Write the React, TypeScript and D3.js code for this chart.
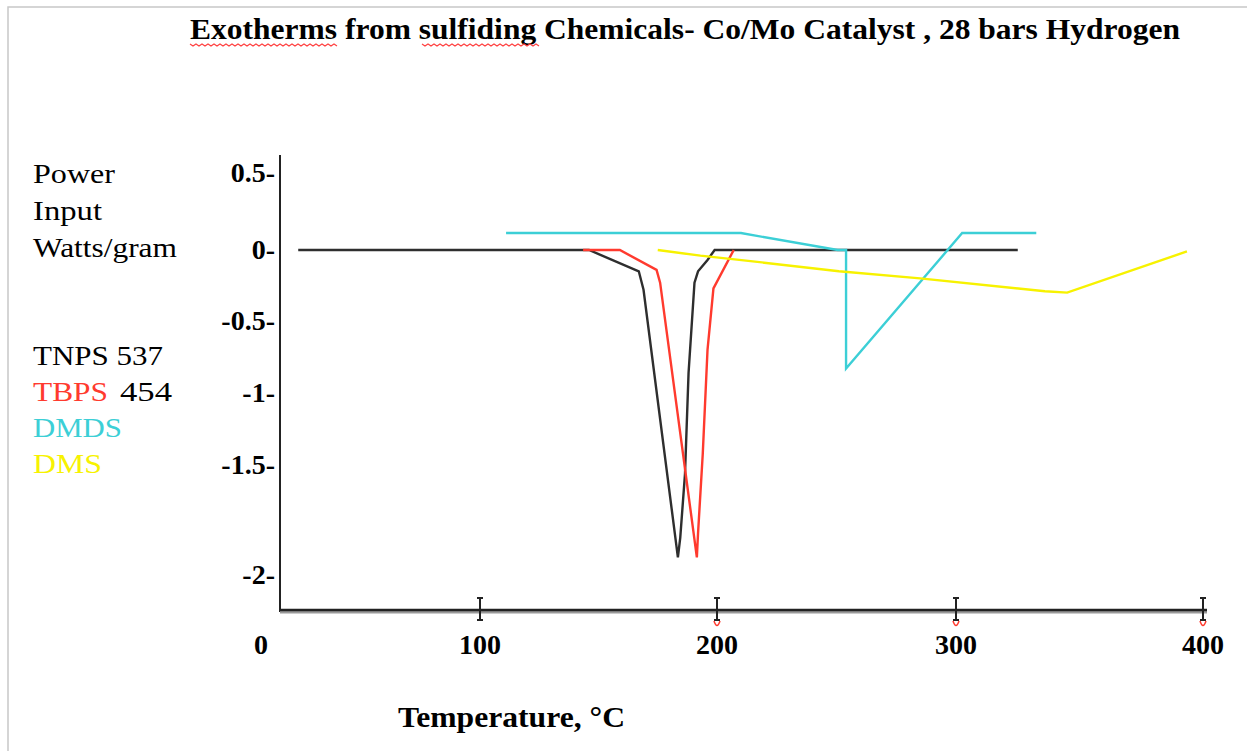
import * as d3 from "d3";

// temperature (°C) and power input (W/g)
const xTicks = [0, 100, 200, 300, 400];
const yTicks = [0.5, 0, -0.5, -1, -1.5, -2];

const tnpsTemp = [17, 146, 167, 169, 183.5, 184.5, 186.5, 188, 190.5, 192, 196, 199, 325];
const tnpsPower = [0, 0, -0.15, -0.28, -1.92, -1.83, -1.54, -0.86, -0.23, -0.15, -0.07, 0, 0];

const tbpsTemp = [143.5, 159, 174.5, 176, 191.5, 192, 194, 196, 198.5, 207];
const tbpsPower = [0, 0, -0.14, -0.23, -1.92, -1.81, -1.42, -0.7, -0.27, 0];

const dmdsTemp = [111, 210, 250.5, 254, 254, 302.5, 332.5];
const dmdsPower = [0.11, 0.11, 0, 0, -0.83, 0.11, 0.11];

const dmsTemp = [175, 193, 215, 251, 285, 336, 345, 393.5];
const dmsPower = [0, -0.04, -0.08, -0.15, -0.2, -0.29, -0.3, -0.01];

const seriesNames = ["TNPS", "TBPS", "DMDS", "DMS"];
const seriesColors = ["#2e2e2e", "#ff3a2e", "#3ccfd6", "#f7f200"];

const serif = "'Liberation Serif', 'Times New Roman', serif";

const App = () => {
  const width = 1247;
  const height = 751;
  const axisX = 280; // where the y axis line sits
  const axisY = 610; // where the x axis line sits

  // the slide's axis is hand drawn, so the scale is piecewise
  const x = d3.scaleLinear().domain(xTicks).range([261, 480, 717, 956, 1203]);
  const y = d3.scaleLinear().domain(yTicks).range([173, 250, 321, 393, 465, 575]);

  const line = d3
    .line<[number, number]>()
    .x((d) => x(d[0]))
    .y((d) => y(d[1]));

  const series = [
    d3.zip(tnpsTemp, tnpsPower),
    d3.zip(tbpsTemp, tbpsPower),
    d3.zip(dmdsTemp, dmdsPower),
    d3.zip(dmsTemp, dmsPower),
  ] as [number, number][][];

  // spell-check squiggle under a word
  const squiggle = (x0: number, x1: number, yy: number) => {
    let p = `M${x0},${yy}`;
    for (let xx = x0, k = 0; xx < x1; xx += 3, k++) {
      p += ` L${xx + 3},${yy + (k % 2 === 0 ? 2 : 0)}`;
    }
    return p;
  };

  return (
    <svg
      width={width}
      height={height}
      style={{ position: "absolute", left: 0, top: 0, background: "#fff" }}
      fontFamily={serif}
    >
      {/* slide frame */}
      <path d={`M8,${height} L8,7 L${width},7`} fill="none" stroke="#c8c8c8" strokeWidth={1.5} />

      <text x={190} y={39} fontSize={30} fontWeight="bold" textLength={990} lengthAdjust="spacingAndGlyphs">
        Exotherms from sulfiding Chemicals- Co/Mo Catalyst , 28 bars Hydrogen
      </text>
      <path d={squiggle(190, 336, 44)} fill="none" stroke="#ff4040" strokeWidth={1.2} />
      <path d={squiggle(422, 538, 44)} fill="none" stroke="#ff4040" strokeWidth={1.2} />

      {/* y axis title */}
      <text x={33} y={183} fontSize={28} textLength={82} lengthAdjust="spacingAndGlyphs">Power</text>
      <text x={33} y={220} fontSize={28} textLength={69} lengthAdjust="spacingAndGlyphs">Input</text>
      <text x={33} y={257} fontSize={28} textLength={144} lengthAdjust="spacingAndGlyphs">Watts/gram</text>

      {/* legend */}
      <text x={33} y={365} fontSize={28} textLength={130} lengthAdjust="spacingAndGlyphs">
        {seriesNames[0]} 537
      </text>
      <text x={33} y={401} fontSize={28} fill={seriesColors[1]} textLength={75} lengthAdjust="spacingAndGlyphs">
        {seriesNames[1]}
      </text>
      <text x={120} y={401} fontSize={28} textLength={52} lengthAdjust="spacingAndGlyphs">454</text>
      <text x={33} y={437} fontSize={28} fill={seriesColors[2]} textLength={89} lengthAdjust="spacingAndGlyphs">
        {seriesNames[2]}
      </text>
      <text x={33} y={473} fontSize={28} fill={seriesColors[3]} textLength={69} lengthAdjust="spacingAndGlyphs">
        {seriesNames[3]}
      </text>

      {/* y axis */}
      <line x1={axisX} x2={axisX} y1={155} y2={axisY + 2} stroke="#222" strokeWidth={2} />
      {yTicks.map((v) => (
        <text key={v} x={275} y={y(v) + 9} fontSize={28} fontWeight="bold" textAnchor="end">
          {String(v)}-
        </text>
      ))}

      {/* x axis */}
      <line x1={axisX} x2={1207} y1={axisY + 2} y2={axisY + 2} stroke="#9a9a9a" strokeWidth={3} />
      <line x1={axisX} x2={1207} y1={axisY} y2={axisY} stroke="#222" strokeWidth={2.5} />
      {xTicks
        .filter((v) => v > 0)
        .map((v) => (
          <g key={v} stroke="#222" strokeWidth={2}>
            <line x1={x(v)} x2={x(v)} y1={598} y2={620} />
            <line x1={x(v) - 3} x2={x(v) + 3} y1={598} y2={598} />
            <line x1={x(v) - 3} x2={x(v) + 3} y1={620} y2={620} />
          </g>
        ))}
      {xTicks
        .filter((v) => v >= 200)
        .map((v) => (
          <path
            key={"m" + v}
            d={`M${x(v) - 3},${621} Q${x(v)},${630} ${x(v) + 3},${621}`}
            fill="none"
            stroke="#ff3a2e"
            strokeWidth={1.5}
          />
        ))}
      {xTicks.map((v) => (
        <text key={"l" + v} x={x(v)} y={654} fontSize={28} fontWeight="bold" textAnchor="middle">
          {v}
        </text>
      ))}

      <text x={398} y={727} fontSize={29} fontWeight="bold" textLength={227} lengthAdjust="spacingAndGlyphs">
        Temperature, °C
      </text>

      {/* curves */}
      {series.map((s, i) => (
        <path key={seriesNames[i]} d={line(s) ?? ""} fill="none" stroke={seriesColors[i]} strokeWidth={2.4} />
      ))}
    </svg>
  );
};

export default App;
